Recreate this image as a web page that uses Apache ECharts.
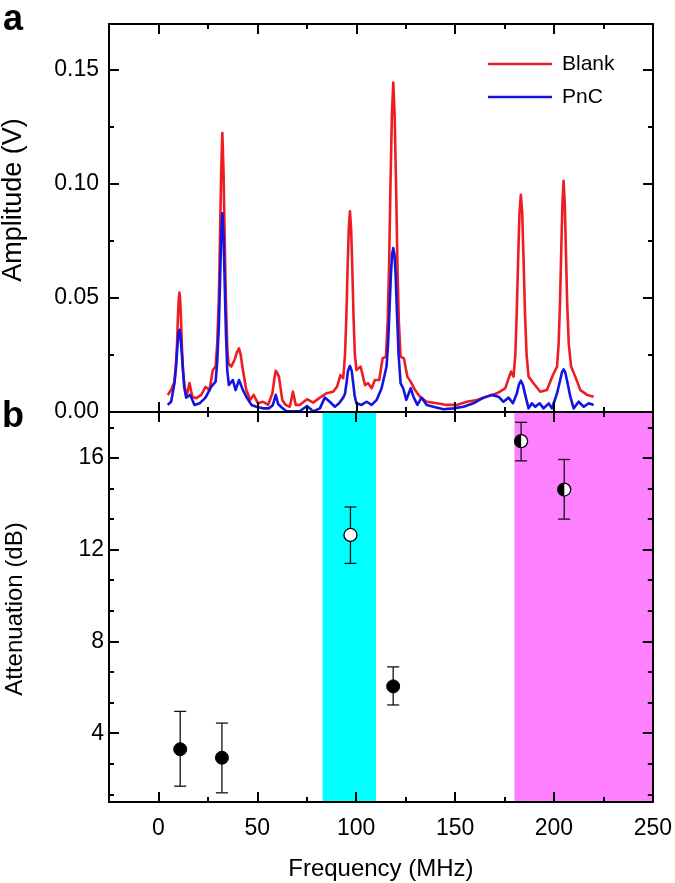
<!DOCTYPE html>
<html>
<head>
<meta charset="utf-8">
<script src="https://cdn.jsdelivr.net/npm/echarts@6/dist/echarts.min.js"></script>
<style>html,body{margin:0;padding:0;background:#fff;}#chart{width:675px;height:883px;}</style>
</head>
<body>
<div id="chart"></div>
<script>
// ---------- data ----------
// [frequency (MHz), amplitude (V)]
const blankSpectrum = [
[4.7,.0075],[6.4,.0096],[8.0,.013],[8.8,.020],[9.4,.030],[9.9,.043],[10.3,.050],[10.6,.0523],[10.9,.050],[11.3,.043],
[11.8,.030],[12.4,.018],[13.2,.0111],[14.4,.0075],[15.7,.0127],[17.1,.0067],[19.1,.0060],[21.6,.0075],[23.8,.0110],[25.8,.0096],
[27.5,.0184],[28.9,.0199],[29.7,.030],[30.5,.049],[31.1,.075],[31.7,.105],[32.3,.1222],[32.9,.105],[33.5,.075],[34.1,.049],
[34.8,.028],[35.4,.0213],[36.8,.0199],[38.5,.0228],[39.6,.026],[40.7,.0279],[41.6,.025],[42.4,.0199],[44.4,.0096],[46.5,.0053],
[48.1,.0075],[50.3,.0038],[52.8,.0045],[55.4,.0031],[57.6,.0082],[58.5,.014],[59.3,.0181],[60.1,.017],[60.9,.0155],[61.8,.010],
[62.6,.0053],[64.3,.0031],[66.4,.0023],[68.0,.0089],[69.4,.0031],[71.4,.0031],[75.1,.0056],[78.2,.0041],[81.6,.0063],[84.9,.0082],
[88.3,.0089],[90.3,.0111],[92.0,.0162],[93.4,.0148],[94.3,.025],[95.0,.042],[95.6,.063],[96.2,.080],[96.8,.0879],[97.4,.080],
[98.0,.063],[98.6,.042],[99.3,.025],[100.1,.0184],[102.2,.0199],[104.4,.0118],[106.0,.0126],[107.8,.0104],[109.4,.0140],[111.6,.0140],
[113.3,.0235],[115.0,.0243],[115.9,.040],[116.6,.065],[117.3,.100],[118.0,.130],[118.7,.1444],[119.4,.130],[120.1,.100],[120.8,.065],
[121.5,.040],[122.4,.0243],[124.1,.0235],[125.8,.0155],[127.5,.0133],[129.7,.0096],[132.2,.0067],[135.6,.0045],[140.7,.0038],[145.7,.0031],
[150.8,.0031],[155.9,.0045],[160.9,.0053],[166.0,.0067],[171.1,.0082],[175.3,.0104],[178.2,.0177],[179.5,.0155],[180.4,.025],[181.1,.043],
[181.8,.066],[182.5,.087],[183.2,.0952],[183.9,.087],[184.6,.066],[185.3,.043],[186.1,.025],[187.1,.0155],[189.6,.0126],[193.0,.0089],
[196.4,.0096],[199.4,.0162],[201.5,.0199],[202.3,.030],[203.0,.048],[203.6,.070],[204.2,.091],[204.8,.1013],[205.4,.091],[206.0,.070],
[206.6,.048],[207.4,.030],[208.6,.0199],[210.7,.0155],[213.3,.0096],[216.7,.0075],[220.0,.0067]
];
const pncSpectrum = [
[4.7,.0031],[6.4,.0045],[8.1,.0126],[8.9,.020],[9.6,.029],[10.1,.034],[10.6,.036],[11.1,.034],[11.6,.028],[12.3,.0199],
[13.0,.011],[14.0,.0063],[16.1,.0075],[18.2,.0031],[20.8,.0038],[23.8,.0063],[26.7,.0111],[28.9,.0133],[29.7,.022],[30.5,.037],
[31.1,.056],[31.7,.077],[32.3,.0871],[32.9,.077],[33.5,.056],[34.1,.035],[34.8,.018],[35.6,.0118],[37.6,.0140],[39.0,.0096],
[40.7,.0140],[42.7,.0096],[44.4,.0067],[47.0,.0031],[49.5,.0023],[52.8,.0016],[55.9,.0016],[57.8,.0030],[59.3,.0075],[60.5,.0035],
[61.9,.0023],[64.7,.0003],[68.0,.0003],[71.4,.0003],[75.1,.0026],[78.2,.0003],[81.6,.0016],[84.1,.0063],[86.6,.0045],[89.2,.0023],
[91.3,.0038],[93.4,.0063],[94.3,.008],[95.1,.013],[95.8,.018],[96.8,.0202],[97.7,.018],[98.4,.013],[99.2,.007],[100.1,.0038],
[102.7,.0031],[105.2,.0045],[107.8,.0031],[110.3,.0053],[112.8,.0104],[115.3,.0199],[116.1,.030],[116.8,.045],[117.5,.060],[118.1,.069],
[118.7,.0718],[119.3,.069],[119.9,.060],[120.6,.043],[121.4,.025],[122.4,.0126],[123.7,.0104],[125.3,.0053],[127.5,.0104],[128.9,.0067],
[130.9,.0031],[133.0,.0063],[135.6,.0031],[139.0,.0023],[144.1,.0012],[149.1,.0016],[154.2,.0023],[159.2,.0038],[164.3,.0063],[168.5,.0075],
[171.9,.0067],[174.4,.0045],[177.0,.0063],[179.2,.0038],[181.2,.0082],[182.2,.012],[183.2,.0137],[184.2,.012],[185.4,.0075],[187.1,.0016],
[188.8,.0038],[190.5,.0023],[192.7,.0038],[194.7,.0016],[197.3,.0038],[198.9,.0016],[201.5,.0082],[203.1,.0140],[204.0,.0175],[204.8,.0187],
[205.6,.0175],[206.5,.0140],[208.2,.0067],[209.9,.0016],[212.4,.0045],[215.0,.0023],[217.5,.0038],[220.0,.0031]
];

const attenFreq = [11.0, 32.1, 97.1, 118.7, 183.4, 205.2];
const attenDb   = [3.30, 2.93, 12.64, 6.04, 16.73, 14.62];
const attenLow  = [1.69, 1.40, 11.40, 5.23, 15.87, 13.33];
const attenHigh = [4.95, 4.44, 13.86, 6.89, 17.55, 15.93];
const attenKind = ['filled','filled','open','filled','half','half'];

const bandRanges = [[83, 110], [180, 250]];

const xTicksMajor = [0, 50, 100, 150, 200, 250];
const xTicksMinor = [25, 75, 125, 175, 225];
const ampTicksMajor = [0, 0.05, 0.10, 0.15];
const ampTicksMinor = [0.025, 0.075, 0.125];
const dbTicksMajor = [4, 8, 12, 16];
const dbTicksMinor = [4/3, 8/3, 16/3, 20/3, 28/3, 32/3, 40/3, 44/3, 52/3];

// ---------- styling / layout ----------
const FONT = '"Liberation Sans", Arial, Helvetica, sans-serif';
const bandColors = ['#00ffff', '#ff80ff'];
const RED = '#ee1c23', BLUE = '#1414e0';
const X_MIN = -25, X_MAX = 250;
const LONG = 10, SHORT = 5;

function xAx(grid, pos, ticks, len, showLine, labels) {
  const a = {
    type: 'value', gridIndex: grid, position: pos, min: X_MIN, max: X_MAX, z: 5,
    axisLine: { show: showLine, onZero: false, lineStyle: { color: '#000', width: 2 } },
    axisTick: { show: true, inside: true, length: len, customValues: ticks, lineStyle: { color: '#000', width: 2 } },
    axisLabel: { show: false },
    splitLine: { show: false }
  };
  if (labels) {
    a.axisLabel = { show: true, customValues: labels, margin: 15, fontSize: 23, color: '#000', fontFamily: FONT,
                    formatter: v => String(v) };
    a.name = 'Frequency (MHz)';
    a.nameLocation = 'middle';
    a.nameGap = 55;
    a.nameTextStyle = { fontSize: 24, color: '#000', fontFamily: FONT };
  }
  return a;
}
function yAx(grid, pos, min, max, ticks, len, showLine, labels, fmt, margin) {
  const a = {
    type: 'value', gridIndex: grid, position: pos, min: min, max: max, z: 5,
    axisLine: { show: showLine, onZero: false, lineStyle: { color: '#000', width: 2 } },
    axisTick: { show: true, inside: true, length: len, customValues: ticks, lineStyle: { color: '#000', width: 2 } },
    axisLabel: { show: false },
    splitLine: { show: false }
  };
  if (labels) {
    a.axisLabel = { show: true, customValues: labels, margin: margin, fontSize: 23, color: '#000', fontFamily: FONT, formatter: fmt };
  }
  return a;
}

const xAxes = [
  xAx(0, 'bottom', xTicksMajor, LONG, true, null),
  xAx(0, 'bottom', xTicksMinor, SHORT, false, null),
  xAx(0, 'top', xTicksMajor, LONG, true, null),
  xAx(0, 'top', xTicksMinor, SHORT, false, null),
  xAx(1, 'bottom', xTicksMajor, LONG, true, xTicksMajor),
  xAx(1, 'bottom', xTicksMinor, SHORT, false, null),
  xAx(1, 'top', xTicksMajor, LONG, true, null),
  xAx(1, 'top', xTicksMinor, SHORT, false, null)
];
const ampFmt = v => v.toFixed(2);
const dbFmt = v => String(Math.round(v));
const yAxes = [
  yAx(0, 'left', 0, 0.17, ampTicksMajor, LONG, true, ampTicksMajor, ampFmt, 10),
  yAx(0, 'left', 0, 0.17, ampTicksMinor, SHORT, false),
  yAx(0, 'right', 0, 0.17, ampTicksMajor, LONG, true),
  yAx(0, 'right', 0, 0.17, ampTicksMinor, SHORT, false),
  yAx(1, 'left', 1, 18, dbTicksMajor, LONG, true, dbTicksMajor, dbFmt, 5),
  yAx(1, 'left', 1, 18, dbTicksMinor, SHORT, false),
  yAx(1, 'right', 1, 18, dbTicksMajor, LONG, true),
  yAx(1, 'right', 1, 18, dbTicksMinor, SHORT, false)
];

const chart = echarts.init(document.getElementById('chart'), null, { renderer: 'canvas' });

const option = {
  backgroundColor: '#fff',
  animation: false,
  textStyle: { fontFamily: FONT },
  grid: [
    { left: 109, top: 24, width: 544, height: 388 },
    { left: 109, top: 412, width: 544, height: 390 }
  ],
  xAxis: xAxes,
  yAxis: yAxes,
  legend: {
    data: ['Blank', 'PnC'],
    orient: 'vertical', left: 488, top: 53, padding: 0,
    icon: 'rect', itemWidth: 64, itemHeight: 2.5, itemGap: 11,
    selectedMode: false,
    textStyle: { fontSize: 21, color: '#000', fontFamily: FONT, lineHeight: 22, padding: [0, 0, 0, 5] }
  },
  graphic: [
    { type: 'text', left: 3, top: 2, style: { text: 'a', fontSize: 36, fontWeight: 'bold', fill: '#000', fontFamily: FONT } },
    { type: 'text', left: 2, top: 399, style: { text: 'b', fontSize: 36, fontWeight: 'bold', fill: '#000', fontFamily: FONT } },
    { type: 'text', x: 14, y: 200, rotation: Math.PI / 2,
      style: { text: 'Amplitude (V)', fontSize: 27, fill: '#000', fontFamily: FONT, align: 'center', verticalAlign: 'middle' } },
    { type: 'text', x: 15, y: 609, rotation: Math.PI / 2,
      style: { text: 'Attenuation (dB)', fontSize: 24, fill: '#000', fontFamily: FONT, align: 'center', verticalAlign: 'middle' } }
  ],
  series: [
    {
      name: 'Blank', type: 'line', xAxisIndex: 0, yAxisIndex: 0, z: 3,
      data: blankSpectrum,
      showSymbol: false, symbol: 'none', smooth: false,
      lineStyle: { color: RED, width: 2.6, join: 'round' }, itemStyle: { color: RED }
    },
    {
      name: 'PnC', type: 'line', xAxisIndex: 0, yAxisIndex: 0, z: 3,
      data: pncSpectrum,
      showSymbol: false, symbol: 'none', smooth: false,
      lineStyle: { color: BLUE, width: 2.6, join: 'round' }, itemStyle: { color: BLUE }
    },
    {
      type: 'custom', xAxisIndex: 4, yAxisIndex: 4, z: 1, silent: true,
      data: bandRanges.map(b => [b[0], b[1], 1]),
      encode: { x: [0, 1], y: 2 },
      renderItem: function (params, api) {
        const cs = params.coordSys;
        const x0 = api.coord([api.value(0), 1])[0];
        const x1 = api.coord([api.value(1), 1])[0];
        return { type: 'rect', shape: { x: x0, y: cs.y, width: x1 - x0, height: cs.height },
                 style: { fill: bandColors[params.dataIndex] } };
      }
    },
    {
      type: 'custom', xAxisIndex: 4, yAxisIndex: 4, z: 3,
      data: attenFreq.map((f, i) => [f, attenDb[i], attenLow[i], attenHigh[i]]),
      encode: { x: 0, y: [1, 2, 3] },
      renderItem: function (params, api) {
        const x = api.value(0);
        const p = api.coord([x, api.value(1)]);
        const pl = api.coord([x, api.value(2)]);
        const ph = api.coord([x, api.value(3)]);
        const cap = 6, r = 6.5;
        const kind = attenKind[params.dataIndex];
        const ls = { stroke: '#111', lineWidth: 1.3 };
        const children = [
          { type: 'line', shape: { x1: p[0], y1: pl[1], x2: p[0], y2: ph[1] }, style: ls },
          { type: 'line', shape: { x1: p[0] - cap, y1: pl[1], x2: p[0] + cap, y2: pl[1] }, style: ls },
          { type: 'line', shape: { x1: p[0] - cap, y1: ph[1], x2: p[0] + cap, y2: ph[1] }, style: ls }
        ];
        if (kind === 'filled') {
          children.push({ type: 'circle', shape: { cx: p[0], cy: p[1], r: r }, style: { fill: '#000', stroke: '#000', lineWidth: 1 } });
        } else if (kind === 'open') {
          children.push({ type: 'circle', shape: { cx: p[0], cy: p[1], r: r }, style: { fill: '#fff', stroke: '#000', lineWidth: 1.3 } });
        } else {
          children.push({ type: 'circle', shape: { cx: p[0], cy: p[1], r: r }, style: { fill: '#fff', stroke: '#000', lineWidth: 1.3 } });
          children.push({ type: 'sector', shape: { cx: p[0], cy: p[1], r0: 0, r: r, startAngle: Math.PI / 2, endAngle: Math.PI * 3 / 2, clockwise: true },
                          style: { fill: '#000' } });
        }
        return { type: 'group', children: children };
      }
    }
  ]
};
chart.setOption(option);
</script>
</body>
</html>
